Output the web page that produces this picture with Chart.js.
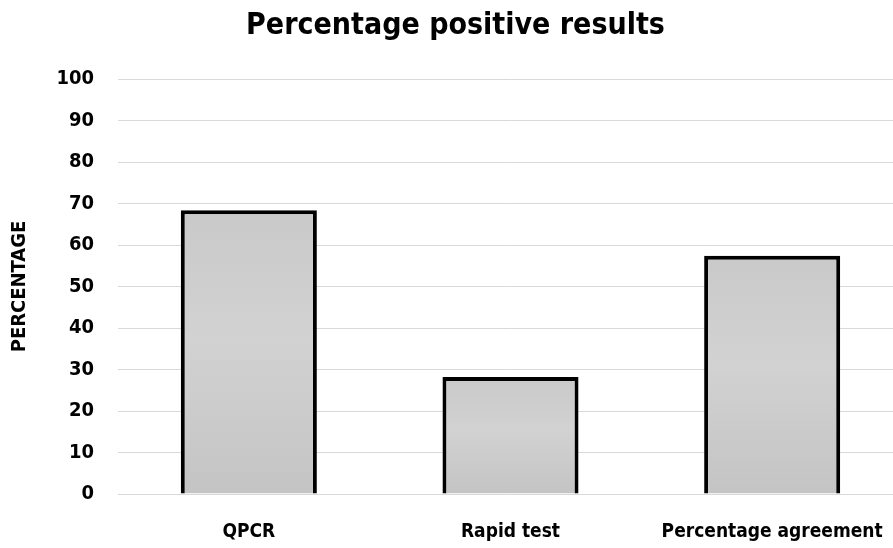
<!DOCTYPE html>
<html>
<head>
<meta charset="utf-8">
<script src="https://cdn.jsdelivr.net/npm/chart.js@4"></script>
<style>
  html, body { margin: 0; padding: 0; background: #fff; overflow: hidden; }
  #wrap { width: 903px; height: 548px; }
</style>
</head>
<body>
<div id="wrap"><canvas id="chart"></canvas></div>
<script>
var categories = ["QPCR", "Rapid test", "Percentage agreement"];
var percentages = [68.4, 28.2, 57.4];
var yTicks = [0, 10, 20, 30, 40, 50, 60, 70, 80, 90, 100];

var font = "'DejaVu Sans Condensed', 'Liberation Sans', Arial, sans-serif";

// soft vertical gradient inside each bar, like the spreadsheet fill
function barFill(ctx) {
  var chart = ctx.chart;
  var area = chart.chartArea;
  if (!area || ctx.parsed === undefined) return "#cbcbcb";
  var y = chart.scales.y;
  var top = y.getPixelForValue(ctx.parsed.y);
  var bottom = y.getPixelForValue(0);
  var g = chart.ctx.createLinearGradient(0, top, 0, bottom);
  g.addColorStop(0, "#c9c9c9");
  g.addColorStop(0.45, "#d2d2d2");
  g.addColorStop(1, "#c4c4c4");
  return g;
}

new Chart("chart", {
  type: "bar",
  data: {
    labels: categories,
    datasets: [{
      label: "Percentage",
      data: percentages,
      backgroundColor: barFill,
      borderColor: "#000",
      borderWidth: 4,
      barPercentage: 1,
      categoryPercentage: 0.52
    }]
  },
  options: {
    responsive: true,
    maintainAspectRatio: false,
    animation: false,
    layout: { padding: { top: 8, left: 8, right: 0, bottom: 4 } },
    plugins: {
      legend: { display: false },
      tooltip: { enabled: false },
      title: {
        display: true,
        text: "Percentage positive results",
        color: "#000",
        font: { family: font, size: 30, weight: "bold" },
        padding: { top: 0, bottom: 35 }
      }
    },
    scales: {
      x: {
        grid: { display: false },
        border: { display: false },
        afterFit: function (s) {
          s.height = 50;
          s.paddingLeft = 0;
          s.paddingRight = 0;
        },
        ticks: {
          color: "#000",
          font: { family: font, size: 19, weight: "bold" },
          padding: 19,
          maxRotation: 0,
          autoSkip: false
        }
      },
      y: {
        min: 0,
        max: 100,
        afterBuildTicks: function (axis) {
          axis.ticks = yTicks.map(function (v) { return { value: v }; });
        },
        afterFit: function (s) {
          s.width = 110;
          s.paddingTop = 0;
          s.paddingBottom = 0;
        },
        grid: { color: "#d9d9d9", lineWidth: 1, drawTicks: false },
        border: { display: false },
        ticks: {
          color: "#000",
          font: { family: font, size: 20, weight: "bold" },
          padding: 24
        },
        title: {
          display: true,
          text: "PERCENTAGE",
          color: "#000",
          font: { family: font, size: 20, weight: "bold" },
          padding: { top: 0, bottom: 20 }
        }
      }
    }
  }
});
</script>
</body>
</html>
